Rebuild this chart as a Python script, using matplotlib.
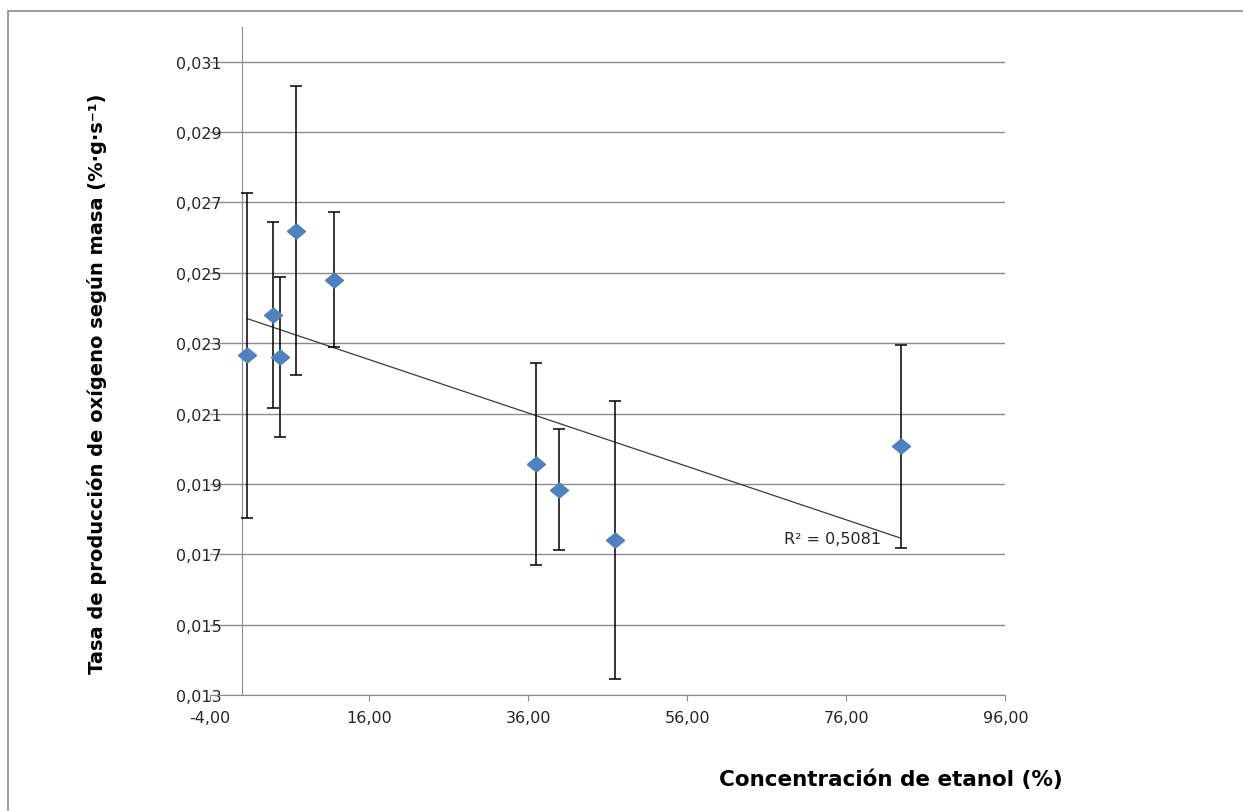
import matplotlib
matplotlib.use('Agg')
import matplotlib.pyplot as plt
import matplotlib.ticker as mticker
from matplotlib.patches import Rectangle
import numpy as np

# Data
etanol = [0.63, 3.9, 4.74, 6.75, 11.53, 36.94, 39.87, 46.92, 82.86]
tasa = [0.02265, 0.02380, 0.02260, 0.02620, 0.02480, 0.01957, 0.01884, 0.01741, 0.02007]
error = [0.00463, 0.00265, 0.00228, 0.00411, 0.00192, 0.00288, 0.00173, 0.00395, 0.00288]
x_ticks = [-4, 16, 36, 56, 76, 96]
y_ticks = [0.013, 0.015, 0.017, 0.019, 0.021, 0.023, 0.025, 0.027, 0.029, 0.031]
r2_label = "R² = 0,5081"

blue = '#4F81BD'
grid_gray = '#8C8C8C'
text_col = '#262626'

fig = plt.figure(figsize=(12.43, 8.12), dpi=100)
fig.patches.append(Rectangle((0.0067, -0.1), 1.2, 1.0856, transform=fig.transFigure,
                             fill=False, edgecolor='#8A8A8A', linewidth=1.2))
ax = fig.add_axes([0.1692, 0.1429, 0.6396, 0.8232])

# trend line (least squares)
slope, intercept = np.polyfit(etanol, tasa, 1)
xs = np.array([min(etanol), max(etanol)])
ax.plot(xs, slope * xs + intercept, color='#3a3a3a', linewidth=0.9, zorder=3)

# error bars and markers
ax.errorbar(etanol, tasa, yerr=error, fmt='none', ecolor='black', elinewidth=1.1,
            capsize=4, capthick=1.1, zorder=4)
diamond = [(-1, 0), (0, 0.83), (1, 0), (0, -0.83), (-1, 0)]
ax.plot(etanol, tasa, linestyle='none', marker=diamond, markersize=13,
        color=blue, markeredgecolor=blue, zorder=5)

ax.annotate(r2_label, (xs[-1], slope * xs[-1] + intercept), xytext=(-14, 0),
            textcoords='offset points', ha='right', va='center',
            fontsize=11.5, color=text_col)

ax.set_xlim(-4, 96)
ax.set_ylim(0.013, 0.032)
ax.set_xticks(x_ticks)
ax.set_yticks(y_ticks)
ax.xaxis.set_major_formatter(mticker.FuncFormatter(lambda v, p: f"{v:.2f}".replace('.', ',')))
ax.yaxis.set_major_formatter(mticker.FuncFormatter(lambda v, p: f"{v:.3f}".replace('.', ',')))

ax.grid(axis='y', color=grid_gray, linewidth=1.0)
ax.set_axisbelow(True)
for s in ['top', 'right']:
    ax.spines[s].set_visible(False)
ax.spines['left'].set_position(('data', 0))
ax.spines['left'].set_color(grid_gray)
ax.spines['bottom'].set_color(grid_gray)
ax.tick_params(axis='x', length=4, color=grid_gray, labelsize=11.5, labelcolor=text_col, pad=7)
ax.tick_params(axis='y', length=0, labelsize=11.5, labelcolor=text_col, pad=15)

fig.text(0.078, 0.527, 'Tasa de producción de oxígeno según masa (%·g·s⁻¹)',
         rotation=90, ha='center', va='center', fontsize=14, fontweight='bold', color='black')
fig.text(0.717, 0.040, 'Concentración de etanol (%)', ha='center', va='center',
         fontsize=15.5, fontweight='bold', color='black')

fig.savefig('out.png', dpi=100)
